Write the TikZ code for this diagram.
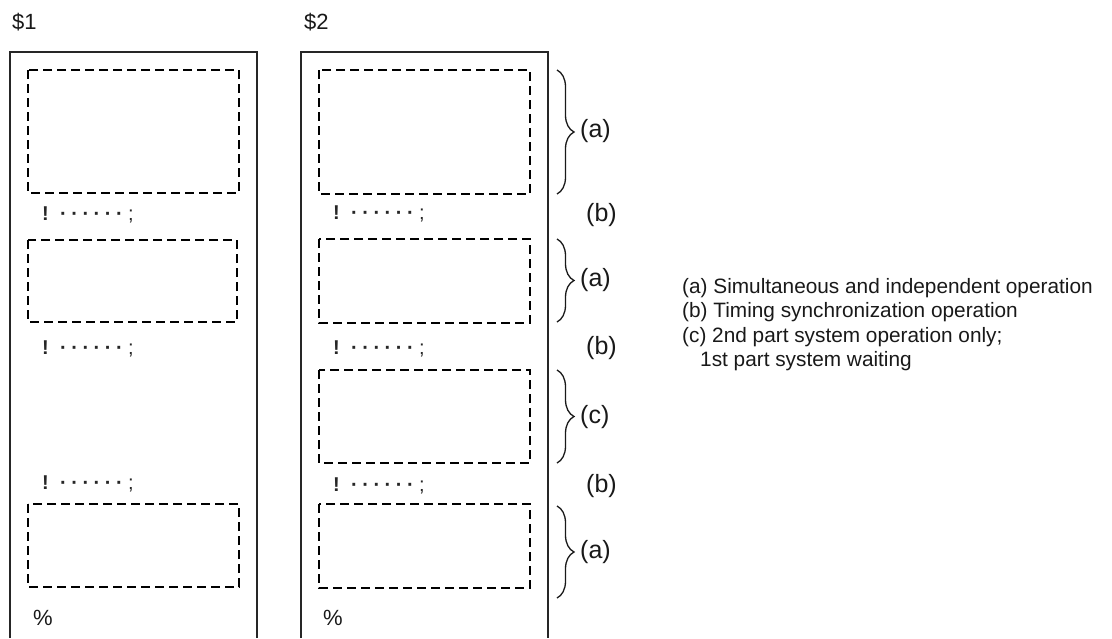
\documentclass[tikz,border=0pt]{standalone}
\usepackage{fontspec}
\setmainfont{Liberation Sans}
\usetikzlibrary{decorations.pathreplacing}
\newcommand{\sdot}{\makebox[11.2pt]{\textbf{·}}}
\newcommand{\syncline}{\textbf{!}\hspace{9pt}\sdot\sdot\sdot\sdot\sdot\sdot\hspace{3pt};}
\begin{document}
\begin{tikzpicture}[x=1pt,y=-1pt,
  outer/.style={draw=black!85,line width=1.5pt},
  blk/.style={draw=black,line width=2pt,dash pattern=on 9pt off 5pt},
  sync/.style={anchor=west,inner sep=0pt,font=\fontsize{20}{20}\selectfont,text=black!85},
  lbl/.style={anchor=west,inner sep=0pt,font=\fontsize{25}{25}\selectfont,text=black!90},
  hdr/.style={anchor=west,inner sep=0pt,font=\fontsize{22}{22}\selectfont,text=black!90},
  brc/.style={draw=black!90,line width=1.3pt,decorate,decoration={brace,amplitude=17pt}}]
\useasboundingbox (0,0) rectangle (1112,638);
% headers
\node[hdr] (h1) at (12,22) {\$1};
\node[hdr] (h2) at (304,22) {\$2};
% outer program boxes
\coordinate (o1a) at (10,638); \coordinate (o1b) at (10,52); \coordinate (o1c) at (257,52); \coordinate (o1d) at (257,638);
\draw[outer] (o1a) -- (o1b) -- (o1c) -- (o1d);
\coordinate (o2a) at (301,638); \coordinate (o2b) at (301,52); \coordinate (o2c) at (548,52); \coordinate (o2d) at (548,638);
\draw[outer] (o2a) -- (o2b) -- (o2c) -- (o2d);
% left blocks
\draw[blk] (28,70) rectangle (239,193) node[coordinate] (L1) {};
\draw[blk] (28,240) rectangle (237,322) node[coordinate] (L2) {};
\draw[blk] (28,504) rectangle (239,587) node[coordinate] (L3) {};
% right blocks
\draw[blk] (319,70) rectangle (530,194) node[coordinate] (R1) {};
\draw[blk] (319,239) rectangle (530,323) node[coordinate] (R2) {};
\draw[blk] (319,370) rectangle (530,463) node[coordinate] (R3) {};
\draw[blk] (319,504) rectangle (530,588) node[coordinate] (R4) {};
% sync lines
\node[sync] (s1) at (42,215) {\syncline};
\node[sync] (s2) at (42,349) {\syncline};
\node[sync] (s3) at (42,484) {\syncline};
\node[sync] (t1) at (333,214) {\syncline};
\node[sync] (t2) at (333,349) {\syncline};
\node[sync] (t3) at (333,486) {\syncline};
\node[hdr] (p1) at (33,618) {\%};
\node[hdr] (p2) at (323,618) {\%};
% braces
\coordinate (b1t) at (557,70); \coordinate (b1b) at (557,194);
\coordinate (b2t) at (557,239); \coordinate (b2b) at (557,322);
\coordinate (b3t) at (557,370); \coordinate (b3b) at (557,463);
\coordinate (b4t) at (557,506); \coordinate (b4b) at (557,598);
\draw[brc] (b1t) -- (b1b);
\draw[brc] (b2t) -- (b2b);
\draw[brc] (b3t) -- (b3b);
\draw[brc] (b4t) -- (b4b);
\node[lbl] (la1) at (580,131) {(a)};
\node[lbl] (lb1) at (586,215) {(b)};
\node[lbl] (la2) at (580,280) {(a)};
\node[lbl] (lb2) at (586,348) {(b)};
\node[lbl] (lc1) at (580,417) {(c)};
\node[lbl] (lb3) at (586,486) {(b)};
\node[lbl] (la3) at (580,552) {(a)};
% legend
\node[anchor=north west,inner sep=0pt,align=left,font=\fontsize{20.8}{24.5}\selectfont,text=black!90] (leg) at (682,278)
 {(a) Simultaneous and independent operation\\
  (b) Timing synchronization operation\\
  (c) 2nd part system operation only;\\
  \hspace*{18pt}1st part system waiting};
\end{tikzpicture}
\end{document}
